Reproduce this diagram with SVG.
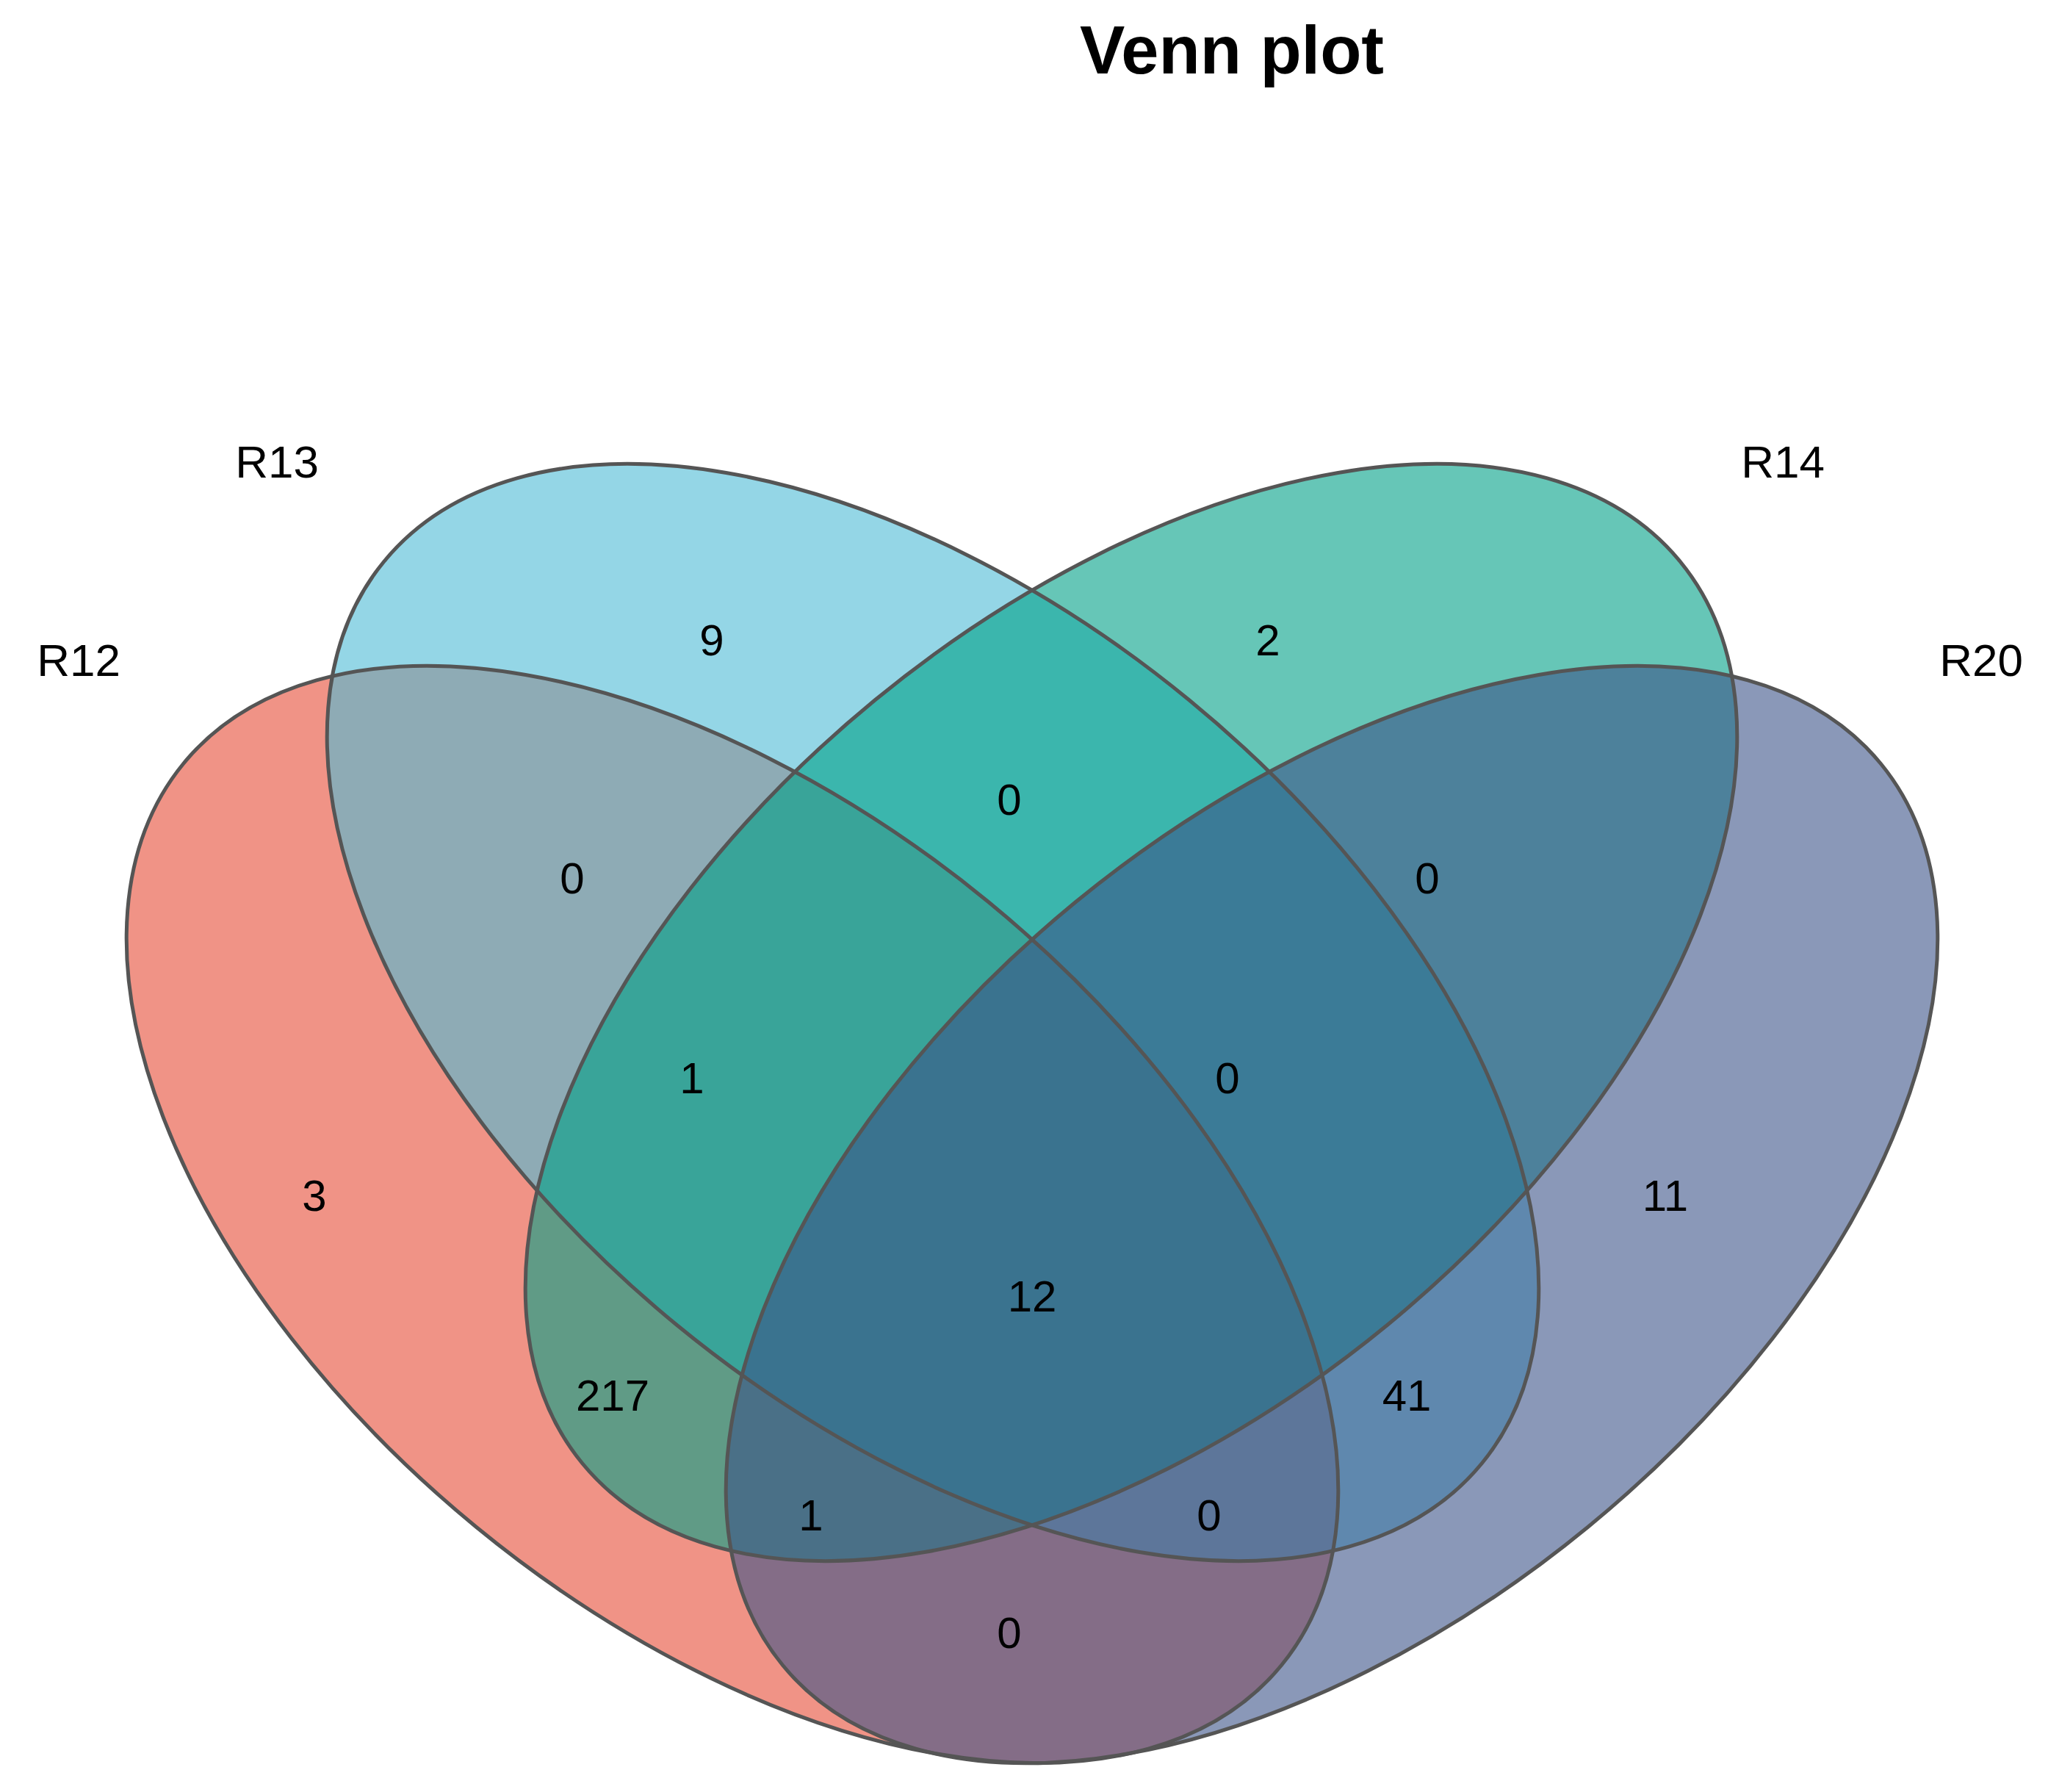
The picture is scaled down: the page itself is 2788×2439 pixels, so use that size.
<svg xmlns="http://www.w3.org/2000/svg" width="2788" height="2439" viewBox="0 0 2788 2439">
<style>
.e{stroke:none;fill-opacity:0.6}
.o{fill:none;stroke:#555555;stroke-width:5}
text{font-family:"Liberation Sans",Arial,sans-serif;fill:#000;text-anchor:middle;dominant-baseline:central}
.n{font-size:60px}
.l{font-size:62px}
.t{font-size:92px;font-weight:bold}
</style>
<rect width="2788" height="2439" fill="#fff"/>
<g id="fills">
<ellipse id="R12" class="e" cx="997" cy="1653" rx="967" ry="550" transform="rotate(39.4 997 1653)" fill="#E64B35"/>
<ellipse id="R13" class="e" cx="1270" cy="1378" rx="967" ry="550" transform="rotate(39.4 1270 1378)" fill="#4DBBD5"/>
<ellipse id="R14" class="e" cx="1540" cy="1378" rx="967" ry="550" transform="rotate(-39.4 1540 1378)" fill="#00A087"/>
<ellipse id="R20" class="e" cx="1813" cy="1653" rx="967" ry="550" transform="rotate(-39.4 1813 1653)" fill="#3C5488"/>
</g>
<g id="outlines">
<ellipse class="o" cx="997" cy="1653" rx="967" ry="550" transform="rotate(39.4 997 1653)"/>
<ellipse class="o" cx="1270" cy="1378" rx="967" ry="550" transform="rotate(39.4 1270 1378)"/>
<ellipse class="o" cx="1540" cy="1378" rx="967" ry="550" transform="rotate(-39.4 1540 1378)"/>
<ellipse class="o" cx="1813" cy="1653" rx="967" ry="550" transform="rotate(-39.4 1813 1653)"/>
</g>
<text class="t" x="1677" y="68">Venn plot</text>
<g id="labels">
<text class="l" x="377" y="628">R13</text>
<text class="l" x="2427" y="628">R14</text>
<text class="l" x="107" y="898">R12</text>
<text class="l" x="2697" y="898">R20</text>
</g>
<g id="counts">
<text class="n" x="969" y="871">9</text>
<text class="n" x="1726" y="871">2</text>
<text class="n" x="1374" y="1088">0</text>
<text class="n" x="779" y="1195">0</text>
<text class="n" x="1943" y="1195">0</text>
<text class="n" x="942" y="1467">1</text>
<text class="n" x="1671" y="1467">0</text>
<text class="n" x="428" y="1627">3</text>
<text class="n" x="2267" y="1627">11</text>
<text class="n" x="1405" y="1764">12</text>
<text class="n" x="834" y="1899">217</text>
<text class="n" x="1915" y="1899">41</text>
<text class="n" x="1104" y="2062">1</text>
<text class="n" x="1646" y="2062">0</text>
<text class="n" x="1374" y="2222">0</text>
</g>
</svg>
